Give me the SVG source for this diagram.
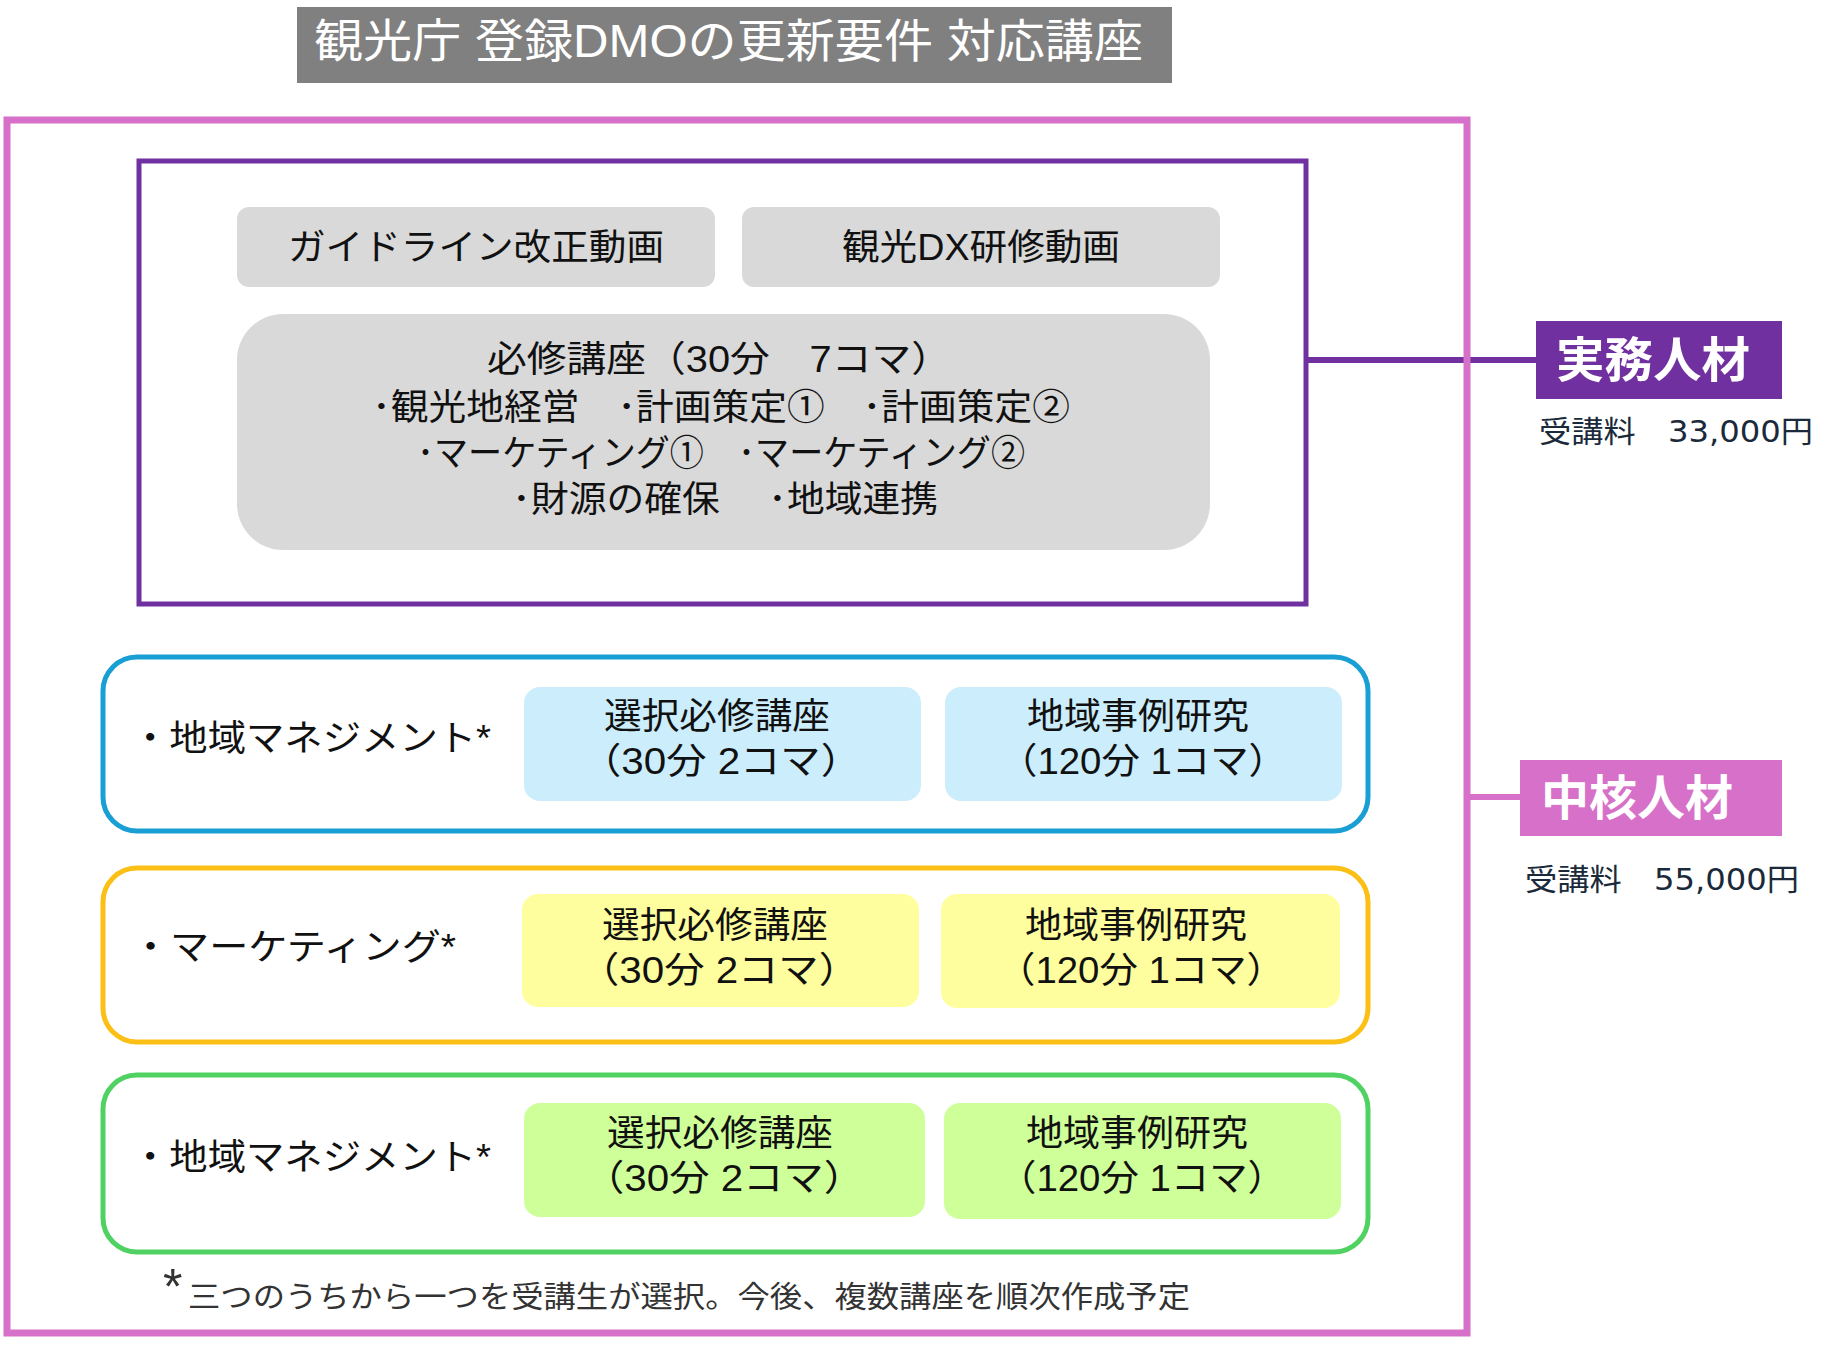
<svg xmlns="http://www.w3.org/2000/svg" width="1838" height="1350" viewBox="0 0 1838 1350">
<style>
  text { font-family: "Liberation Sans", "Noto Sans CJK JP", sans-serif; }
  .body { font-size: 36px; fill: #111; text-anchor: middle; }
  .lbl { font-size: 36px; fill: #111; }
  .tag { font-size: 48px; font-weight: bold; fill: #fff; }
  .price { font-family: "DejaVu Sans", "Noto Sans CJK JP", sans-serif; font-size: 30px; fill: #1b2a3b; }
  .gray { fill: #d9d9d9; }
</style>
<rect width="1838" height="1350" fill="#fff"/>

<g id="title">
  <rect x="297" y="7" width="875" height="76" fill="#808080"/>
  <text x="314" y="57" font-size="46" fill="#fff" textLength="829" lengthAdjust="spacingAndGlyphs">観光庁 登録DMOの更新要件 対応講座</text>
</g>

<g id="connectors">
  <line x1="1307" y1="360" x2="1536" y2="360" stroke="#7030a0" stroke-width="6"/>
  <line x1="1469" y1="797" x2="1520" y2="797" stroke="#d670c8" stroke-width="6"/>
</g>

<g id="chukaku-frame">
  <rect x="7" y="120" width="1460" height="1213" fill="none" stroke="#d670c8" stroke-width="7"/>
</g>

<g id="jitsumu-frame">
  <rect x="139" y="161" width="1167" height="443" fill="none" stroke="#7030a0" stroke-width="5"/>
</g>

<g id="guideline">
  <rect class="gray" x="237" y="207" width="478" height="80" rx="12"/>
  <text class="body" x="476" y="260" textLength="376" lengthAdjust="spacingAndGlyphs">ガイドライン改正動画</text>
</g>
<g id="dx">
  <rect class="gray" x="742" y="207" width="478" height="80" rx="12"/>
  <text class="body" x="981" y="260" textLength="278" lengthAdjust="spacingAndGlyphs">観光DX研修動画</text>
</g>
<g id="hisshu">
  <rect class="gray" x="237" y="314" width="973" height="236" rx="46"/>
  <text class="body">
    <tspan x="724" y="372" textLength="464" lengthAdjust="spacingAndGlyphs">必修講座（30分　7コマ）</tspan>
    <tspan x="726" y="420" textLength="698" lengthAdjust="spacingAndGlyphs">･観光地経営　･計画策定①　･計画策定②</tspan>
    <tspan x="726" y="466" textLength="608" lengthAdjust="spacingAndGlyphs">･マーケティング①　･マーケティング②</tspan>
    <tspan x="725" y="512" textLength="426" lengthAdjust="spacingAndGlyphs">･財源の確保　 ･地域連携</tspan>
  </text>
</g>

<g id="jitsumu">
  <rect x="1536" y="321" width="246" height="78" fill="#7030a0"/>
  <text class="tag" x="1556" y="377" textLength="194" lengthAdjust="spacingAndGlyphs">実務人材</text>
  <text class="price" x="1539" y="442" textLength="274" lengthAdjust="spacingAndGlyphs">受講料　33,000円</text>
</g>
<g id="chukaku">
  <rect x="1520" y="760" width="262" height="76" fill="#d670c8"/>
  <text class="tag" x="1541" y="815" textLength="192" lengthAdjust="spacingAndGlyphs">中核人材</text>
  <text class="price" x="1525" y="890" textLength="274" lengthAdjust="spacingAndGlyphs">受講料　55,000円</text>
</g>

<g id="area-mgmt">
  <rect x="103" y="657" width="1265" height="174" rx="34" fill="#fff" stroke="#1a9fd5" stroke-width="5"/>
  <text class="lbl" x="131" y="751" textLength="360" lengthAdjust="spacingAndGlyphs">・地域マネジメント*</text>
  <rect x="524" y="687" width="397" height="114" rx="16" fill="#ccedfb"/>
  <text class="body">
    <tspan x="722" y="729" textLength="226" lengthAdjust="spacingAndGlyphs">選択必修講座</tspan>
    <tspan x="721" y="774" textLength="280" lengthAdjust="spacingAndGlyphs">（30分  2コマ）</tspan>
  </text>
  <rect x="945" y="687" width="397" height="114" rx="16" fill="#ccedfb"/>
  <text class="body">
    <tspan x="1143" y="729" textLength="222" lengthAdjust="spacingAndGlyphs">地域事例研究</tspan>
    <tspan x="1143" y="774" textLength="288" lengthAdjust="spacingAndGlyphs">（120分 1コマ）</tspan>
  </text>
</g>

<g id="marketing">
  <rect x="103" y="868" width="1265" height="174" rx="34" fill="#fff" stroke="#fbbf16" stroke-width="5"/>
  <text class="lbl" x="131" y="960" textLength="325" lengthAdjust="spacingAndGlyphs">・マーケティング*</text>
  <rect x="522" y="894" width="397" height="113" rx="16" fill="#fffe9e"/>
  <text class="body">
    <tspan x="720" y="938" textLength="226" lengthAdjust="spacingAndGlyphs">選択必修講座</tspan>
    <tspan x="719" y="983" textLength="280" lengthAdjust="spacingAndGlyphs">（30分  2コマ）</tspan>
  </text>
  <rect x="941" y="894" width="399" height="114" rx="16" fill="#fffe9e"/>
  <text class="body">
    <tspan x="1141" y="938" textLength="222" lengthAdjust="spacingAndGlyphs">地域事例研究</tspan>
    <tspan x="1141" y="983" textLength="288" lengthAdjust="spacingAndGlyphs">（120分 1コマ）</tspan>
  </text>
</g>

<g id="area-mgmt-2">
  <rect x="103" y="1075" width="1265" height="177" rx="34" fill="#fff" stroke="#4fd262" stroke-width="5"/>
  <text class="lbl" x="131" y="1170" textLength="360" lengthAdjust="spacingAndGlyphs">・地域マネジメント*</text>
  <rect x="524" y="1103" width="401" height="114" rx="16" fill="#cfff99"/>
  <text class="body">
    <tspan x="725" y="1146" textLength="226" lengthAdjust="spacingAndGlyphs">選択必修講座</tspan>
    <tspan x="724" y="1191" textLength="280" lengthAdjust="spacingAndGlyphs">（30分  2コマ）</tspan>
  </text>
  <rect x="944" y="1103" width="397" height="116" rx="16" fill="#cfff99"/>
  <text class="body">
    <tspan x="1142" y="1146" textLength="222" lengthAdjust="spacingAndGlyphs">地域事例研究</tspan>
    <tspan x="1142" y="1191" textLength="288" lengthAdjust="spacingAndGlyphs">（120分 1コマ）</tspan>
  </text>
</g>

<g id="footnote">
  <text fill="#333"><tspan x="163" y="1304" font-size="50">*</tspan><tspan x="188" y="1307" font-size="30" textLength="1002" lengthAdjust="spacingAndGlyphs">三つのうちから一つを受講生が選択。今後、複数講座を順次作成予定</tspan></text>
</g>
</svg>
